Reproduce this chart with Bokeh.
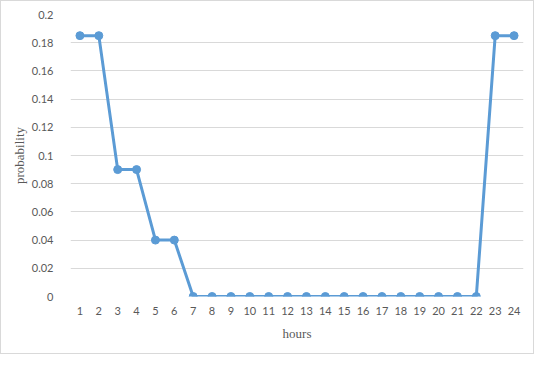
from bokeh.plotting import figure
from bokeh.models import FixedTicker, CustomJSTickFormatter, ColumnDataSource, Range1d
from bokeh.embed import file_html
from bokeh.resources import INLINE

hours = list(range(1, 25))
probability = [0.185, 0.185, 0.09, 0.09, 0.04, 0.04, 0, 0, 0, 0, 0, 0,
               0, 0, 0, 0, 0, 0, 0, 0, 0, 0, 0.185, 0.185]
y_ticks = [0, 0.02, 0.04, 0.06, 0.08, 0.1, 0.12, 0.14, 0.16, 0.18, 0.2]

src = ColumnDataSource(dict(x=hours, y=probability))

p = figure(width=534, height=354, output_backend="svg", toolbar_location=None,
           x_range=Range1d(0.5, 24.5), y_range=Range1d(0, 0.2),
           min_border_left=69, min_border_right=12, min_border_top=13, min_border_bottom=59)
p.styles = {"border": "1px solid #d9d9d9"}
p.outline_line_color = None
p.background_fill_color = "white"
p.border_fill_color = "white"

p.line("x", "y", source=src, line_color="#5b9bd5", line_width=3)
p.scatter("x", "y", source=src, size=8, fill_color="#5b9bd5", line_color="#5b9bd5")

p.xaxis.ticker = FixedTicker(ticks=hours)
p.yaxis.ticker = FixedTicker(ticks=y_ticks)
p.yaxis.formatter = CustomJSTickFormatter(code="return String(Math.round(tick*100)/100);")
p.xgrid.grid_line_color = None
p.ygrid.grid_line_color = "#d9d9d9"
p.ygrid.grid_line_width = 1

for ax in (p.xaxis, p.yaxis):
    ax.axis_line_color = None
    ax.major_tick_line_color = None
    ax.minor_tick_line_color = None
    ax.major_label_text_font = "Lato"
    ax.major_label_text_font_size = "11px"
    ax.major_label_text_color = "#595959"
    ax.axis_label_text_font = "Liberation Serif"
    ax.axis_label_text_font_size = "13px"
    ax.axis_label_text_font_style = "normal"
    ax.axis_label_text_color = "#595959"

p.xaxis.major_label_standoff = 4
p.yaxis.major_label_standoff = 11
p.xaxis.axis_label = "hours"
p.yaxis.axis_label = "probability"
p.xaxis.axis_label_standoff = 8
p.yaxis.axis_label_standoff = 2

open("out.html", "w").write(file_html(p, INLINE))
